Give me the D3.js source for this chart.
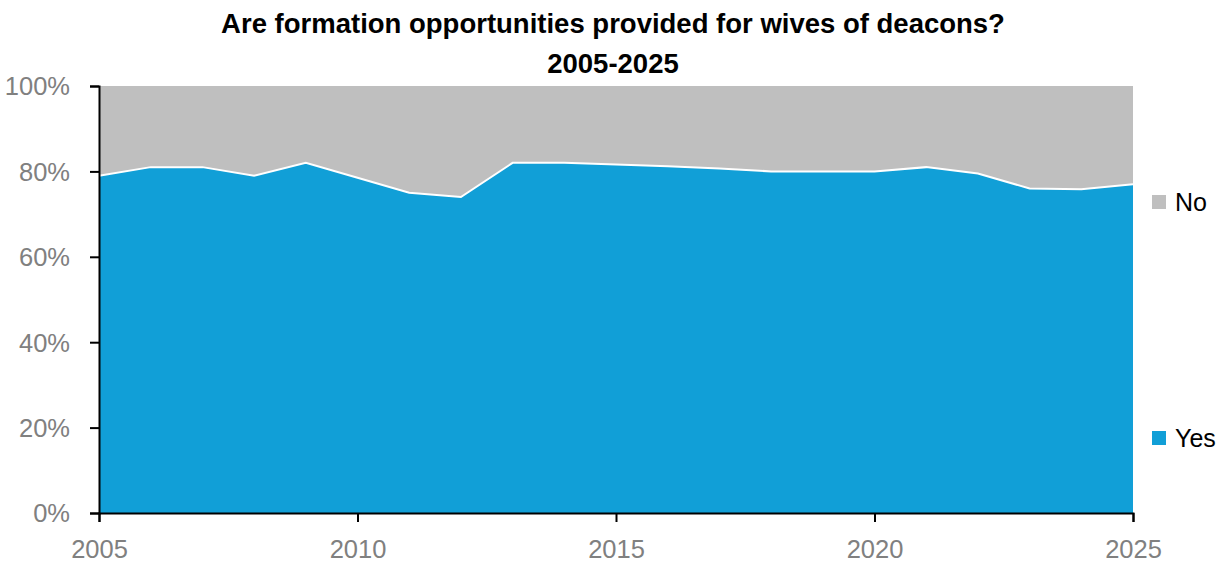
<!DOCTYPE html>
<html><head><meta charset="utf-8">
<script src="https://cdn.jsdelivr.net/npm/d3@7"></script>
<style>body{margin:0;background:#fff}</style>
</head><body><svg id="c" width="1226" height="563"></svg>
<script>
const years = [2005,2006,2007,2008,2009,2010,2011,2012,2013,2014,2015,2016,2017,2018,2019,2020,2021,2022,2023,2024,2025];
const yesValues = [79,81,81,79,82,78.5,75,74,82,82,81.6,81.2,80.7,80,80,80,81,79.5,76,75.8,77];
const noValues = yesValues.map(v => 100 - v);
const yTicks = [0,20,40,60,80,100];
const xTicks = [2005,2010,2015,2020,2025];
const titleLines = ["Are formation opportunities provided for wives of deacons?", "2005-2025"];
const seriesNames = ["Yes","No"];
const colors = {Yes:"#119FD7", No:"#BFBFBF"};

(function(){
const svg = d3.select("#c");
const mLeft = 99, mRight = 1133, mTop = 86, mBottom = 513;
const x = d3.scaleLinear().domain([2005,2025]).range([mLeft,mRight]);
const y = d3.scaleLinear().domain([0,100]).range([mBottom,mTop]);

const data = years.map((yr,i)=>({year:yr, Yes:yesValues[i], No:noValues[i]}));
const stack = d3.stack().keys(seriesNames)(data);
const area = d3.area().x(d=>x(d.data.year)).y0(d=>y(d[0])).y1(d=>y(d[1]));

svg.append("g").selectAll("path").data(stack.slice().reverse()).join("path")
  .attr("d", area).attr("fill", d=>colors[d.key]);
svg.append("path").datum(data)
  .attr("d", d3.line().x(d=>x(d.year)).y(d=>y(d.Yes)))
  .attr("fill","none").attr("stroke","#fff").attr("stroke-width",2);

const font = "'Liberation Sans',Arial,sans-serif";
const fontN = "'Liberation Sans Narrow','Liberation Sans',Arial,sans-serif";
const yAxis = svg.append("g").attr("transform",`translate(${mLeft},0)`)
  .call(d3.axisLeft(y).tickValues(yTicks).tickSize(9).tickFormat(d=>d+"%"));
const xAxis = svg.append("g").attr("transform",`translate(0,${mBottom})`)
  .call(d3.axisBottom(x).tickValues(xTicks).tickSize(9).tickFormat(d3.format("d")));
[yAxis,xAxis].forEach(a=>{
  a.select(".domain").attr("stroke","#000").attr("stroke-width",2);
  a.selectAll(".tick line").attr("stroke","#000").attr("stroke-width",2);
  a.selectAll("text").attr("fill","#808080").style("font-family",font).style("font-size","25.5px");
});
yAxis.selectAll("text").attr("x",-29).attr("dy","0.35em");
xAxis.selectAll("text").attr("y",45).attr("dy","0");

svg.append("g").selectAll("text").data(titleLines).join("text")
  .attr("x",613).attr("y",(d,i)=>33+i*40).attr("text-anchor","middle")
  .style("font-family",fontN).style("font-weight","bold").style("font-size","27.5px")
  .attr("fill","#000").text(d=>d);

const legendY = {No:202, Yes:438};
const lg = svg.append("g").selectAll("g").data(["No","Yes"]).join("g")
  .attr("transform",d=>`translate(1152,${legendY[d]})`);
lg.append("rect").attr("x",0).attr("y",-7).attr("width",14).attr("height",14).attr("fill",d=>colors[d]);
lg.append("text").attr("x",23).attr("dy","0.35em").style("font-family",font).style("font-size","25px")
  .attr("fill","#000").text(d=>d);
})();
</script></body></html>
